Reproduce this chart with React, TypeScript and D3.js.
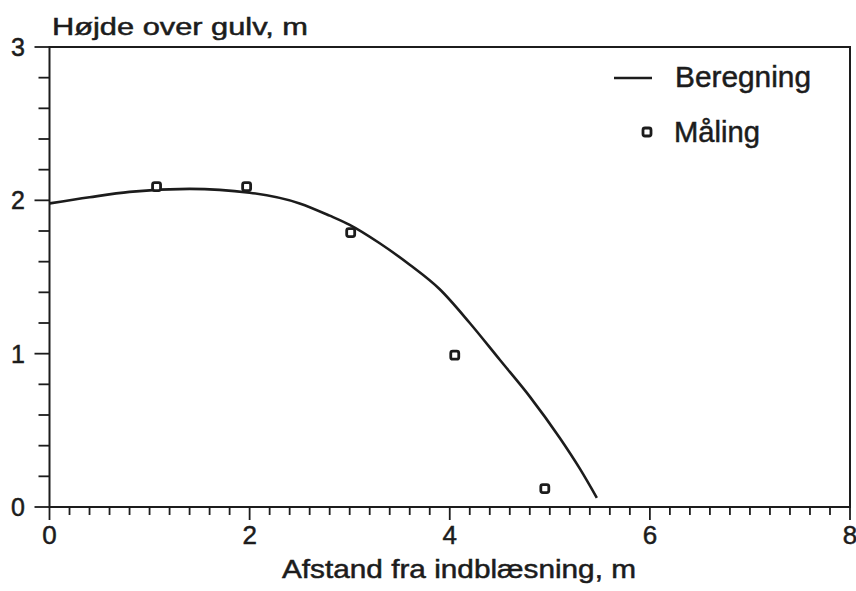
import * as d3 from "d3"

const WIDTH = 856
const HEIGHT = 591
const INK = "#1c1c1c"
const FONT = "'Liberation Sans', Arial, sans-serif"

// Beregning (calculated curve)
const calcX = [0, 0.4, 0.8, 1.4, 2.0, 2.5, 2.8, 3.0, 3.3, 3.6, 3.9, 4.2, 4.5, 4.8, 5.1, 5.3, 5.47]
const calcY = [1.98, 2.02, 2.055, 2.075, 2.05, 1.98, 1.9, 1.84, 1.72, 1.58, 1.42, 1.2, 0.96, 0.72, 0.45, 0.25, 0.06]

// Måling (measured points)
const measX = [1.07, 1.97, 3.01, 4.05, 4.95]
const measY = [2.09, 2.09, 1.79, 0.99, 0.12]

const xTicks = [0, 2, 4, 6, 8]
const yTicks = [0, 1, 2, 3]

const yTitle = "Højde over gulv, m"
const xTitle = "Afstand fra indblæsning, m"
const legendLabels = ["Beregning", "Måling"]

const margin = { left: 49.5, right: 6, top: 47, bottom: 84 }

export default function App() {
  const x = d3.scaleLinear().domain([0, 8]).range([margin.left, WIDTH - margin.right])
  const y = d3.scaleLinear().domain([0, 3]).range([HEIGHT - margin.bottom, margin.top])

  const xMinor = d3.range(0, 8.001, 0.2)
  const yMinor = d3.range(0, 3.001, 0.2)

  const line = d3
    .line<number>()
    .x((_, i) => x(calcX[i]))
    .y((d) => y(d))
    .curve(d3.curveMonotoneX)

  const x0 = x(0)
  const x1 = x(8)
  const y0 = y(0)
  const y1 = y(3)

  // scanned text looks a little heavier than plain Arial
  const textStyle = { fill: INK, stroke: INK, strokeWidth: 0.5 }

  return (
    <svg
      width={WIDTH}
      height={HEIGHT}
      style={{ position: "absolute", left: 0, top: 0, background: "white" }}
      fontFamily={FONT}
    >
      <rect width={WIDTH} height={HEIGHT} fill="white" />

      {/* frame */}
      <path
        d={`M${x0},${y0}V${y1}H${x1}V${y0}Z`}
        fill="none"
        stroke={INK}
        strokeWidth={2}
      />

      {/* x ticks */}
      {xMinor.map((v) => {
        const major = Math.abs(v - Math.round(v / 2) * 2) < 1e-6
        return (
          <line
            key={`xm${v}`}
            x1={x(v)}
            x2={x(v)}
            y1={y0}
            y2={y0 + (major ? 13 : 8)}
            stroke={INK}
            strokeWidth={1.8}
          />
        )
      })}
      {xTicks.map((v) => (
        <text
          key={`xt${v}`}
          x={x(v)}
          y={544}
          textAnchor="middle"
          fontSize={26}
          {...textStyle}
        >
          {v}
        </text>
      ))}

      {/* y ticks */}
      {yMinor.map((v) => {
        const major = Math.abs(v - Math.round(v)) < 1e-6
        return (
          <line
            key={`ym${v}`}
            x1={x0}
            x2={x0 - (major ? 15 : 11)}
            y1={y(v)}
            y2={y(v)}
            stroke={INK}
            strokeWidth={1.8}
          />
        )
      })}
      {yTicks.map((v) => (
        <text
          key={`yt${v}`}
          x={25}
          y={y(v)}
          dy="0.36em"
          textAnchor="end"
          fontSize={25}
          {...textStyle}
        >
          {v}
        </text>
      ))}

      {/* titles */}
      <text
        x={52}
        y={35}
        fontSize={23.5}
        textLength={256}
        lengthAdjust="spacingAndGlyphs"
        {...textStyle}
      >
        {yTitle}
      </text>
      <text
        x={282}
        y={578}
        fontSize={25.5}
        textLength={354}
        lengthAdjust="spacingAndGlyphs"
        {...textStyle}
      >
        {xTitle}
      </text>

      {/* calculated curve */}
      <path d={line(calcY) ?? ""} fill="none" stroke={INK} strokeWidth={2.6} />

      {/* measured points */}
      {measX.map((mx, i) => (
        <rect
          key={`m${i}`}
          x={x(mx) - 4}
          y={y(measY[i]) - 4}
          width={8}
          height={8}
          rx={2}
          fill="white"
          stroke={INK}
          strokeWidth={2.8}
        />
      ))}

      {/* legend */}
      <line x1={614} x2={652} y1={78} y2={78} stroke={INK} strokeWidth={2.4} />
      <text x={675} y={87} fontSize={29} textLength={136} lengthAdjust="spacingAndGlyphs" {...textStyle}>
        {legendLabels[0]}
      </text>
      <rect x={643} y={128} width={8} height={8} rx={2} fill="white" stroke={INK} strokeWidth={2.8} />
      <text x={674} y={142} fontSize={29} textLength={86} lengthAdjust="spacingAndGlyphs" {...textStyle}>
        {legendLabels[1]}
      </text>
    </svg>
  )
}
